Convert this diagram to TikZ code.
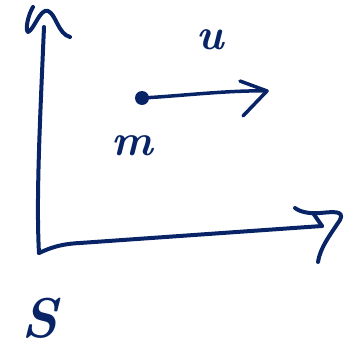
\documentclass[tikz,border=0pt]{standalone}
\usepackage{fontspec}
\usetikzlibrary{calc}
\definecolor{ink}{RGB}{8,36,102}
\begin{document}
\begin{tikzpicture}[x=1pt,y=-1pt,
  pen/.style={draw=ink,line width=4pt,line cap=round,line join=round},
  lbl/.style={text=ink,inner sep=0pt}]
\useasboundingbox (0,0) rectangle (360,351);
% named points
\coordinate (O) at (39,253);
\coordinate (Ytop) at (44,27);
\coordinate (Xend) at (322,226);
\node[circle,fill=ink,minimum size=14pt,inner sep=0pt] (m) at (142,98) {};
\coordinate (Uend) at (267,91);
% axes
\draw[pen] (Ytop) .. controls (40,120) and (36,200) .. (O);
\draw[pen] (O) .. controls (50,248) and (60,244) .. (80,243) -- (Xend);
% vertical arrow head (hand-drawn)
\draw[pen] (33,7) .. controls (28,15) and (25,30) .. (28,32)
           .. controls (34,30) and (40,8) .. (48,11)
           .. controls (56,14) and (58,34) .. (70,37);
% horizontal arrow head
\draw[pen] (Xend) -- (313,213);
\draw[pen] (295,208) .. controls (300,212) and (310,214) .. (320,213)
           .. controls (332,212) and (345,210) .. (340,220)
           .. controls (330,235) and (320,248) .. (318,262);
% velocity arrow
\draw[pen,line width=3.5pt] (m.center) .. controls (180,96) and (230,90) .. (Uend);
\draw[pen,line width=3.5pt] (240,81) -- (Uend) -- (243,116);
% labels
\node[lbl,font=\fontsize{44}{44}\selectfont\bfseries\itshape] (u) at (210,40) {u};
\node[lbl,font=\fontsize{44}{44}\selectfont\bfseries\itshape] (mlab) at (132,146) {m};
\node[lbl,font=\fontsize{56}{56}\selectfont\bfseries\itshape] (S) at (40,318) {S};
\end{tikzpicture}
\end{document}
